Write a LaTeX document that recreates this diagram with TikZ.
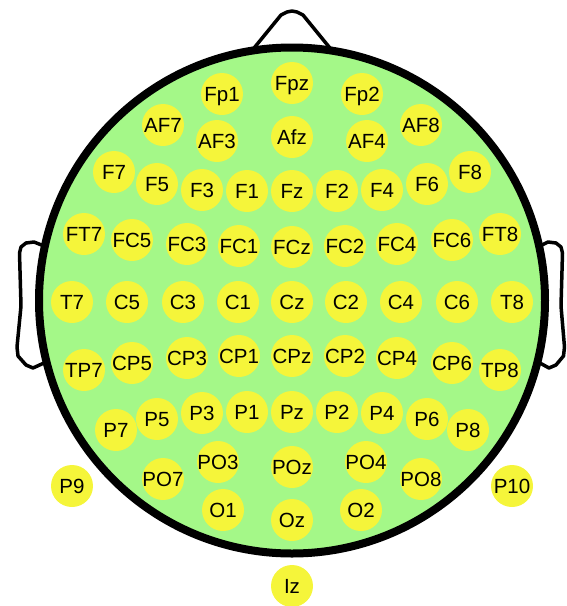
\documentclass[tikz,border=0pt]{standalone}
\usepackage{fontspec}
\setmainfont{Liberation Sans}
\definecolor{scalpgreen}{RGB}{164,248,136}
\definecolor{elecyellow}{RGB}{245,245,58}
\newcommand{\eltext}[1]{\makebox[0pt]{\raisebox{-0.36em}[0pt][0pt]{#1}}}
\begin{document}
\begin{tikzpicture}[x=1pt,y=-1pt,
  outline/.style={line width=3.5pt, line join=round},
  earshape/.style={outline, fill=white},
  scalp/.style={line width=8pt, fill=scalpgreen},
  electrode/.style={circle, fill=elecyellow, minimum size=42pt, inner sep=0pt,
    font=\fontsize{20.5}{21}\selectfont}]
\useasboundingbox (0,0) rectangle (567,606);

% nose
\draw[outline] (250,53) -- (281,15) -- (287,12) -- (292,11) -- (297,12) -- (303,15) -- (334,53);

% ears
\draw[earshape] (44,246) -- (34,242) -- (26,243) -- (21,247) -- (19.5,253) -- (21,306)
  -- (17,347) -- (18,356) -- (26,365) -- (33,368) -- (44,363);
\draw[earshape] (540,246) -- (548,242) -- (556,243) -- (561,247) -- (562.5,253) -- (561,306)
  -- (564.5,347) -- (563.5,356) -- (556,365) -- (549,368) -- (540,363);

% scalp
\draw[scalp] (292,300.5) circle[radius=253pt];

% electrodes of the 10-10 system
\foreach \n/\x/\y in {
  Fp1/222/94, Fpz/292/83, Fp2/362/94,
  AF7/163/125, AF3/217/141, Afz/292/137, AF4/367/141, AF8/421/125,
  F7/114/172, F5/157/184, F3/202/190, F1/247/191, Fz/292/191, F2/337/191, F4/382/190, F6/427/184, F8/470/172,
  FT7/84/234, FC5/132/240, FC3/187/244, FC1/239/246, FCz/292/247, FC2/345/246, FC4/397/244, FC6/452/240, FT8/500/234,
  T7/72/302, C5/127/302, C3/183/302, C1/238/302, Cz/292/302, C2/346/302, C4/401/302, C6/457/302, T8/512/302,
  TP7/84/370, CP5/132/363, CP3/187/358, CP1/239/356, CPz/292/356, CP2/345/356, CP4/397/358, CP6/452/363, TP8/500/370,
  P7/116/430, P5/157/419, P3/202/413, P1/247/412, Pz/292/412, P2/337/412, P4/382/413, P6/427/419, P8/468/430,
  PO7/163/479, PO3/218/462, POz/292/467, PO4/366/462, PO8/421/479,
  O1/223/510, Oz/292/520, O2/361/510,
  P9/72/486, P10/512/486, Iz/292/586}
  \node[electrode] (\n) at (\x,\y) {\eltext{\n}};
\end{tikzpicture}
\end{document}
